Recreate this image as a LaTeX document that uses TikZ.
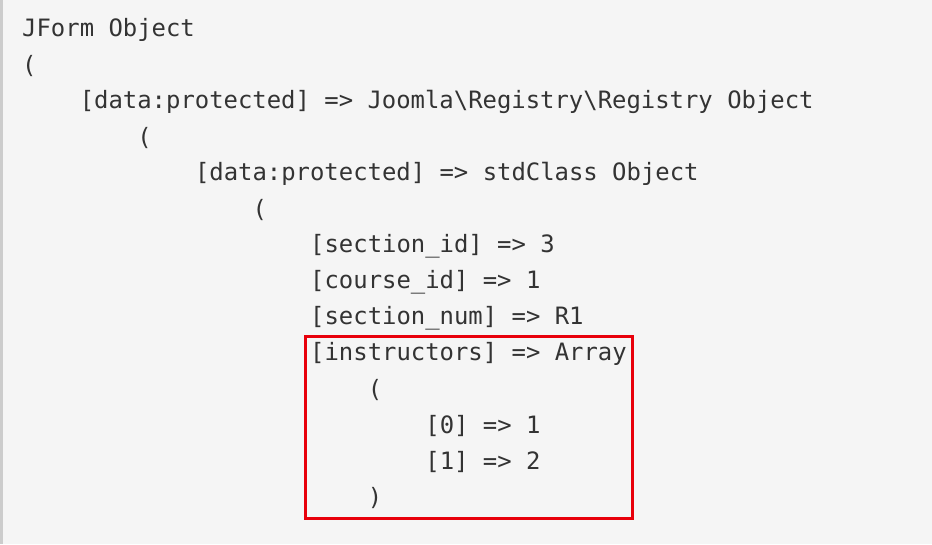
\documentclass[tikz,border=0pt]{standalone}
\usepackage{fontspec}
\setmonofont{DejaVu Sans Mono}
\definecolor{bg}{HTML}{F5F5F5}
\definecolor{edge}{HTML}{CCCCCC}
\definecolor{txt}{HTML}{333333}
\definecolor{hl}{HTML}{E8000B}
\begin{document}
\begin{tikzpicture}[x=1pt,y=-1pt,
  code/.style={anchor=west,inner sep=0pt,font=\ttfamily\fontsize{23.9}{28}\selectfont,text=txt}]
\fill[bg] (0,0) rectangle (932,544);
\fill[edge] (0,0) rectangle (3,544);
\useasboundingbox (0,0) rectangle (932,544);
\def\cw{14.4}
\node[code] (l1) at (22,30) {JForm Object};
\node[code] (l2) at (22,66) {(};
\node[code] (l3) at (22+4*\cw,102) {[data:protected] => Joomla\textbackslash Registry\textbackslash Registry Object};
\node[code] (l4) at (22+8*\cw,138) {(};
\node[code] (l5) at (22+12*\cw,174) {[data:protected] => stdClass Object};
\node[code] (l6) at (22+16*\cw,210) {(};
\node[code] (l7) at (22+20*\cw,246) {[section\_id] => 3};
\node[code] (l8) at (22+20*\cw,282) {[course\_id] => 1};
\node[code] (l9) at (22+20*\cw,318) {[section\_num] => R1};
\node[code] (l10) at (22+20*\cw,354) {[instructors] => Array};
\node[code] (l11) at (22+24*\cw,390) {(};
\node[code] (l12) at (22+28*\cw,426) {[0] => 1};
\node[code] (l13) at (22+28*\cw,462) {[1] => 2};
\node[code] (l14) at (22+24*\cw,498) {)};
\draw[hl,line width=3pt] (305,336) rectangle (632,518);
\end{tikzpicture}
\end{document}
